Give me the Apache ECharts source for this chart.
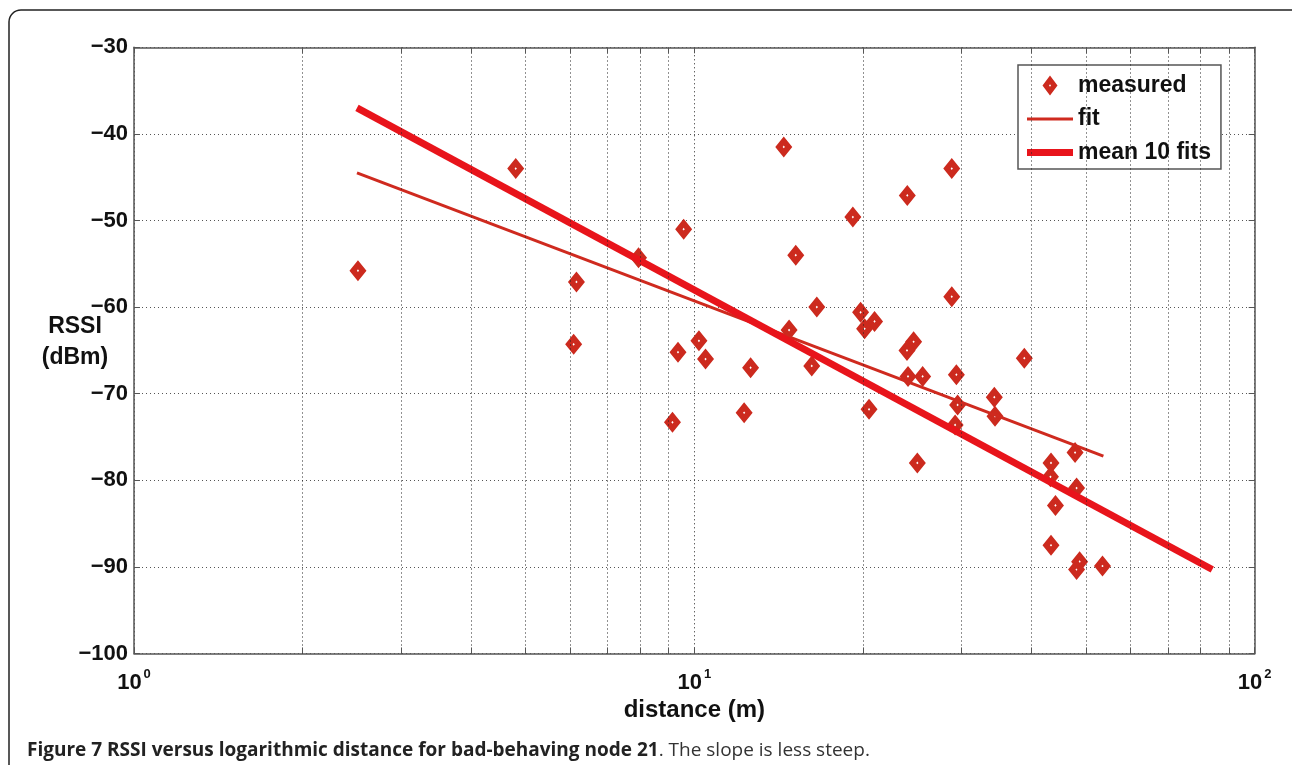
<!DOCTYPE html>
<html>
<head>
<meta charset="utf-8">
<script src="https://cdn.jsdelivr.net/npm/echarts@6/dist/echarts.min.js"></script>
<style>
html,body{margin:0;padding:0;background:#fff;}
#chart{width:1292px;height:765px;}
</style>
</head>
<body>
<div id="chart"></div>
<script>
// measured points: distance (m) and RSSI (dBm)
const distance = [2.51, 4.80, 6.16, 6.09, 7.95, 9.57, 9.35, 10.19, 10.47, 9.14,
  14.44, 28.8, 23.99, 19.18, 15.17, 28.8, 16.54, 19.80, 20.97, 20.13,
  14.76, 24.62, 23.96, 12.6, 16.2, 38.8, 24.06, 25.55, 29.35, 34.3,
  29.5, 34.4, 29.2, 12.27, 20.5, 25.0, 47.8, 43.3, 43.2, 48.1,
  44.1, 43.3, 48.7, 48.1, 53.5];
const rssi = [-55.8, -44.0, -57.1, -64.3, -54.3, -51.0, -65.2, -63.9, -66.0, -73.3,
  -41.5, -44.0, -47.1, -49.6, -54.0, -58.8, -60.0, -60.6, -61.65, -62.5,
  -62.65, -64.0, -65.0, -67.0, -66.8, -65.9, -68.0, -68.0, -67.8, -70.4,
  -71.3, -72.6, -73.6, -72.2, -71.8, -78.0, -76.8, -78.0, -79.6, -80.9,
  -82.9, -87.5, -89.4, -90.3, -89.9];
// fit line endpoints
const fitDistance = [2.5, 53.7];
const fitRssi = [-44.5, -77.2];
// mean of 10 fits endpoints
const meanDistance = [2.5, 84];
const meanRssi = [-37.0, -90.3];
// axis ranges and minor log grid values
const xMin = 1, xMax = 100;
const yMin = -100, yMax = -30, yStep = 10;
const minorX = [2, 3, 4, 5, 6, 7, 8, 9, 20, 30, 40, 50, 60, 70, 80, 90];
const tickLen = 0.7; // minor tick length in dB

const FONT = '"Liberation Sans", Arial, Helvetica, sans-serif';
const DIAMOND = 'path://M0,-10L7.5,0L0,10L-7.5,0Z M0,-1.3L-1,0L0,1.3L1,0Z';

const chart = echarts.init(document.getElementById('chart'), null, {renderer: 'canvas'});

const gridMark = {
  silent: true,
  symbol: 'none',
  animation: false,
  label: {show: false},
  emphasis: {disabled: true},
  lineStyle: {color: '#222', type: [1, 3], width: 1},
  data: minorX.map(v => ({xAxis: v}))
};
const tickMark = {
  silent: true,
  symbol: 'none',
  animation: false,
  label: {show: false},
  emphasis: {disabled: true},
  lineStyle: {color: '#555', type: 'solid', width: 1},
  data: minorX.map(v => [{coord: [v, yMin]}, {coord: [v, yMin + tickLen]}])
    .concat(minorX.map(v => [{coord: [v, yMax]}, {coord: [v, yMax - tickLen]}]))
};

const axisLineStyle = {color: '#555', width: 1.5};

const option = {
  animation: false,
  backgroundColor: '#fff',
  grid: {left: 134, right: 37.3, top: 47.3, bottom: 111.5},
  xAxis: [{
    type: 'log', logBase: 10, min: xMin, max: xMax,
    position: 'bottom',
    axisLine: {show: true, lineStyle: axisLineStyle},
    axisTick: {show: true, inside: true, length: 6, lineStyle: {color: '#555'}},
    splitLine: {show: true, lineStyle: {color: '#222', type: [1, 3], width: 1}},
    axisLabel: {
      margin: 14,
      formatter: v => '{b|10}{s|' + Math.round(Math.log10(v)) + '}',
      rich: {
        b: {fontSize: 22, fontWeight: 'bold', fontFamily: FONT, color: '#111', lineHeight: 26, verticalAlign: 'bottom'},
        s: {fontSize: 13, fontWeight: 'bold', fontFamily: FONT, color: '#111', lineHeight: 13, verticalAlign: 'top', padding: [0, 0, 0, 2]}
      }
    },
    name: 'distance (m)', nameLocation: 'middle', nameGap: 42,
    nameTextStyle: {fontSize: 24, fontWeight: 'bold', fontFamily: FONT, color: '#111'}
  }, {
    type: 'log', logBase: 10, min: xMin, max: xMax,
    position: 'top',
    axisLine: {show: true, lineStyle: axisLineStyle},
    axisTick: {show: true, inside: true, length: 6, lineStyle: {color: '#555'}},
    axisLabel: {show: false},
    splitLine: {show: false}
  }],
  yAxis: [{
    type: 'value', min: yMin, max: yMax, interval: yStep,
    position: 'left',
    axisLine: {show: true, lineStyle: axisLineStyle},
    axisTick: {show: true, inside: true, length: 6, lineStyle: {color: '#555'}},
    splitLine: {show: true, lineStyle: {color: '#555', type: [1, 3], width: 1}},
    axisLabel: {
      margin: 6,
      fontSize: 22, fontWeight: 'bold', fontFamily: FONT, color: '#111',
      formatter: v => String(v).replace('-', '\u2212')
    }
  }, {
    type: 'value', min: yMin, max: yMax, interval: yStep,
    position: 'right',
    axisLine: {show: true, lineStyle: axisLineStyle},
    axisTick: {show: true, inside: true, length: 6, lineStyle: {color: '#555'}},
    axisLabel: {show: false},
    splitLine: {show: false}
  }],
  legend: {
    orient: 'vertical',
    left: 1018, top: 65,
    backgroundColor: '#fff',
    borderColor: '#555', borderWidth: 1.5, borderRadius: 0,
    padding: [9, 10, 5, 9],
    itemWidth: 46, itemHeight: 20, itemGap: 10.5,
    textStyle: {fontSize: 23, fontWeight: 'bold', fontFamily: FONT, color: '#111'},
    data: [
      {name: 'measured', icon: DIAMOND},
      {name: 'fit', icon: 'path://M0,0H46V3H0Z'},
      {name: 'mean 10 fits', icon: 'path://M0,0H46V7H0Z'}
    ]
  },
  graphic: [{
    type: 'rect', silent: true, z: 100,
    shape: {x: 9, y: 10, width: 1300, height: 800, r: 12},
    style: {fill: 'none', stroke: '#222', lineWidth: 1.5}
  }, {
    type: 'text', silent: true, x: 75, y: 342, z: 100,
    style: {
      text: 'RSSI\n(dBm)',
      fontSize: 23, fontWeight: 'bold', fontFamily: FONT, fill: '#111',
      align: 'center', verticalAlign: 'middle', lineHeight: 31
    }
  }, {
    type: 'text', silent: true, left: 27, top: 741, z: 100,
    style: {
      text: '{b|Figure 7 RSSI versus logarithmic distance for bad-behaving node 21}{n|. The slope is less steep.}',
      rich: {
        b: {fontSize: 19, fontWeight: 'bold', fontFamily: '"Open Sans", sans-serif', fill: '#222'},
        n: {fontSize: 19, fontWeight: 'normal', fontFamily: '"Open Sans", sans-serif', fill: '#333'}
      }
    }
  }],
  series: [{
    name: 'grid', type: 'line', data: [], z: 1, silent: true,
    markLine: gridMark
  }, {
    name: 'ticks', type: 'line', data: [], z: 1, silent: true,
    markLine: tickMark
  }, {
    name: 'measured', type: 'scatter', z: 2,
    symbol: DIAMOND, symbolSize: [17, 21],
    itemStyle: {color: '#cc2a1e', opacity: 1},
    data: distance.map((d, i) => [d, rssi[i]])
  }, {
    name: 'fit', type: 'line', z: 3,
    showSymbol: false, symbol: 'none',
    color: '#cf2a1f',
    lineStyle: {color: '#cf2a1f', width: 3},
    data: fitDistance.map((d, i) => [d, fitRssi[i]])
  }, {
    name: 'mean 10 fits', type: 'line', z: 4,
    showSymbol: false, symbol: 'none',
    color: '#e8141b',
    lineStyle: {color: '#e8141b', width: 7},
    data: meanDistance.map((d, i) => [d, meanRssi[i]])
  }]
};
chart.setOption(option);
</script>
</body>
</html>
